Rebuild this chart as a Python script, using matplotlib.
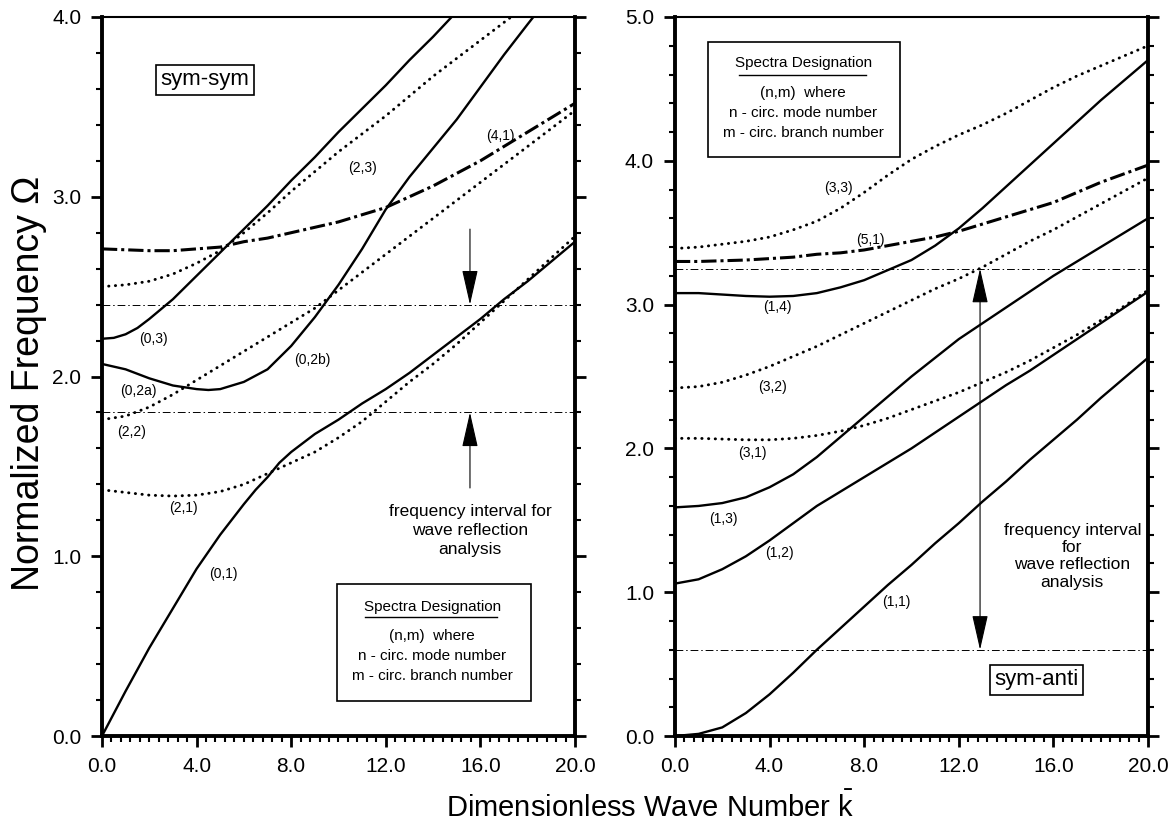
import matplotlib
matplotlib.use('Agg')
import matplotlib.pyplot as plt
from matplotlib.patches import Rectangle
from matplotlib.ticker import MultipleLocator, FormatStrFormatter

plt.rcParams['font.family'] = ['Liberation Sans', 'DejaVu Sans']
plt.rcParams['mathtext.fontset'] = 'custom'
plt.rcParams['mathtext.rm'] = 'Liberation Sans'
plt.rcParams['mathtext.it'] = 'Liberation Sans'

# ---- sym-sym panel (left) ----
k = [0, 1, 2, 3, 4, 5, 6, 7, 8, 9, 10, 11, 12, 13, 14, 15, 16, 17, 18, 19, 20]
k_01 = [0, 1, 2, 3, 4, 5, 6, 6.5, 7, 7.5, 8, 8.5, 9, 10, 11, 12, 13, 14, 15, 16,
        17, 18, 19, 20]
ss_01 = [0, 0.25, 0.49, 0.71, 0.93, 1.12, 1.29, 1.37, 1.44, 1.52, 1.58, 1.63,
         1.68, 1.76, 1.85, 1.93, 2.02, 2.12, 2.22, 2.32, 2.43, 2.53, 2.64, 2.75]
ss_21 = [1.37, 1.355, 1.34, 1.335, 1.34, 1.36, 1.40, 1.46, 1.52, 1.58, 1.66, 1.75,
         1.86, 1.97, 2.07, 2.18, 2.30, 2.42, 2.54, 2.66, 2.78]
k_02 = [0, 1, 2, 3, 4, 4.5, 5, 6, 7, 8, 9, 10, 11, 12, 13, 14, 15, 16, 17, 18, 18.6]
ss_02 = [2.07, 2.04, 1.99, 1.95, 1.93, 1.925, 1.93, 1.97, 2.04, 2.17, 2.33, 2.51,
         2.71, 2.93, 3.11, 3.27, 3.43, 3.61, 3.79, 3.96, 4.06]
k_03 = [0, 0.5, 1, 1.5, 2, 3, 4, 5, 6, 7, 8, 9, 10, 11, 12, 13, 14, 15]
ss_03 = [2.21, 2.215, 2.235, 2.27, 2.32, 2.43, 2.56, 2.69, 2.82, 2.95, 3.09, 3.22,
         3.36, 3.49, 3.62, 3.76, 3.89, 4.03]
k_23 = [0, 1, 2, 3, 4, 5, 6, 7, 8, 9, 10, 11, 12, 13, 14, 15, 16, 17, 18]
ss_23 = [2.50, 2.51, 2.53, 2.57, 2.63, 2.70, 2.80, 2.91, 3.03, 3.14, 3.25, 3.35,
         3.45, 3.56, 3.67, 3.77, 3.87, 3.97, 4.07]
ss_22 = [1.76, 1.78, 1.83, 1.90, 1.98, 2.06, 2.14, 2.22, 2.30, 2.38, 2.48, 2.58,
         2.68, 2.78, 2.88, 2.98, 3.08, 3.18, 3.28, 3.38, 3.48]
ss_41 = [2.71, 2.705, 2.70, 2.70, 2.71, 2.72, 2.75, 2.77, 2.80, 2.83, 2.86, 2.90,
         2.94, 3.00, 3.06, 3.13, 3.20, 3.28, 3.36, 3.44, 3.52]
ss_band = [2.4, 1.8]

# ---- sym-anti panel (right) ----
sa_33 = [3.39, 3.40, 3.42, 3.44, 3.47, 3.52, 3.58, 3.67, 3.78, 3.90, 4.01, 4.10,
         4.18, 4.25, 4.33, 4.42, 4.51, 4.59, 4.66, 4.73, 4.80]
sa_51 = [3.30, 3.30, 3.305, 3.31, 3.32, 3.33, 3.35, 3.36, 3.38, 3.41, 3.44, 3.47,
         3.51, 3.56, 3.61, 3.66, 3.71, 3.78, 3.85, 3.91, 3.97]
sa_14 = [3.08, 3.08, 3.07, 3.06, 3.055, 3.06, 3.08, 3.12, 3.17, 3.24, 3.31, 3.41,
         3.53, 3.67, 3.82, 3.97, 4.12, 4.27, 4.42, 4.56, 4.70]
sa_32 = [2.42, 2.43, 2.46, 2.51, 2.57, 2.64, 2.71, 2.79, 2.87, 2.95, 3.03, 3.11,
         3.18, 3.26, 3.35, 3.44, 3.52, 3.61, 3.70, 3.79, 3.88]
sa_31 = [2.07, 2.07, 2.065, 2.06, 2.06, 2.07, 2.09, 2.12, 2.16, 2.21, 2.27, 2.33,
         2.39, 2.46, 2.53, 2.61, 2.70, 2.79, 2.89, 2.99, 3.10]
sa_13 = [1.59, 1.60, 1.62, 1.66, 1.73, 1.82, 1.94, 2.08, 2.22, 2.36, 2.50, 2.63,
         2.76, 2.87, 2.98, 3.09, 3.20, 3.30, 3.40, 3.50, 3.60]
sa_12 = [1.06, 1.09, 1.16, 1.25, 1.36, 1.48, 1.60, 1.70, 1.80, 1.90, 2.00, 2.11,
         2.22, 2.33, 2.44, 2.54, 2.65, 2.76, 2.87, 2.98, 3.09]
sa_11 = [0, 0.015, 0.06, 0.16, 0.29, 0.44, 0.60, 0.75, 0.90, 1.05, 1.19, 1.34,
         1.48, 1.63, 1.77, 1.92, 2.06, 2.20, 2.35, 2.49, 2.63]
sa_band = [3.25, 0.6]

solid = dict(color='black', lw=1.7, ls='-')
dotted = dict(color='black', lw=2.1, ls=(0, (0.1, 2.2)), dash_capstyle='round')
dashdot = dict(color='black', lw=2.2, ls=(0, (5, 1.3, 1, 1.3)))
thin = dict(color='black', lw=0.7, ls=(0, (8, 3, 1.5, 3)))

fig = plt.figure(figsize=(11.72, 8.33), dpi=100)
ax1 = fig.add_axes([0.0870, 0.1164, 0.4036, 0.8632])
ax2 = fig.add_axes([0.5759, 0.1164, 0.4036, 0.8632])


def style(ax, ymax):
    ax.set_xlim(0, 20)
    ax.set_ylim(0, ymax)
    ax.xaxis.set_major_locator(MultipleLocator(4))
    ax.xaxis.set_minor_locator(MultipleLocator(0.4))
    ax.yaxis.set_major_locator(MultipleLocator(1))
    ax.yaxis.set_minor_locator(MultipleLocator(0.2))
    ax.xaxis.set_major_formatter(FormatStrFormatter('%.1f'))
    ax.yaxis.set_major_formatter(FormatStrFormatter('%.1f'))
    ax.tick_params(which='both', direction='out', left=True, right=True,
                   top=False, bottom=True, labelsize=15)
    ax.tick_params(which='major', length=8, width=2, pad=7)
    ax.tick_params(which='minor', length=4, width=1.5)
    for s in ['left', 'right', 'bottom']:
        ax.spines[s].set_linewidth(2.8)
    ax.spines['top'].set_linewidth(1.5)


def spectra_box(ax, x0, y0, w, h, cx, ys, uline):
    ax.add_patch(Rectangle((x0, y0), w, h, transform=ax.transAxes,
                           fill=False, lw=1.2, ec='black'))
    lines = ['Spectra Designation', '(n,m)  where',
             'n - circ. mode number', 'm - circ. branch number']
    for t, y in zip(lines, ys):
        ax.text(cx, y, t, transform=ax.transAxes, ha='center', va='center',
                fontsize=11)
    ax.plot(uline[0], uline[1], transform=ax.transAxes, color='black', lw=1)


# left panel
style(ax1, 4)
ax1.plot(k_01, ss_01, **solid)
ax1.plot(k, ss_21, **dotted)
ax1.plot(k_02, ss_02, **solid)
ax1.plot(k_03, ss_03, **solid)
ax1.plot(k_23, ss_23, **dotted)
ax1.plot(k, ss_22, **dotted)
ax1.plot(k, ss_41, **dashdot)
for b in ss_band:
    ax1.axhline(b, **thin)

labels1 = [('(0,3)', 2.16, 2.21), ('(0,2b)', 8.88, 2.09), ('(2,3)', 11.0, 3.16),
           ('(4,1)', 16.83, 3.34), ('(0,2a)', 1.52, 1.92), ('(2,2)', 1.27, 1.69),
           ('(2,1)', 3.43, 1.27), ('(0,1)', 5.12, 0.90)]
for t, x, y in labels1:
    ax1.text(x, y, t, ha='center', va='center', fontsize=10)

arr = 'head_length=2.2,head_width=0.5'
ax1.annotate('', xy=(15.56, 2.4), xytext=(15.56, 2.82),
             arrowprops=dict(arrowstyle='-|>,' + arr, color='black', lw=0.8,
                             shrinkA=0, shrinkB=0))
ax1.annotate('', xy=(15.56, 1.8), xytext=(15.56, 1.38),
             arrowprops=dict(arrowstyle='-|>,' + arr, color='black', lw=0.8,
                             shrinkA=0, shrinkB=0))
ax1.text(15.56, 1.145, 'frequency interval for\nwave reflection\nanalysis',
         ha='center', va='center', fontsize=12.5, linespacing=1.35)
ax1.text(4.36, 3.65, 'sym-sym', ha='center', va='center', fontsize=16,
         bbox=dict(boxstyle='square,pad=0.2', fc='white', ec='black', lw=1.2))
spectra_box(ax1, 0.497, 0.049, 0.41, 0.162, 0.698,
            [0.179, 0.139, 0.111, 0.083], ([0.556, 0.835], [0.1655, 0.1655]))

# right panel
style(ax2, 5)
ax2.plot(k, sa_33, **dotted)
ax2.plot(k, sa_51, **dashdot)
ax2.plot(k, sa_14, **solid)
ax2.plot(k, sa_32, **dotted)
ax2.plot(k, sa_31, **dotted)
ax2.plot(k, sa_13, **solid)
ax2.plot(k, sa_12, **solid)
ax2.plot(k, sa_11, **solid)
for b in sa_band:
    ax2.axhline(b, **thin)

labels2 = [('(3,3)', 6.93, 3.81), ('(5,1)', 8.25, 3.45), ('(1,4)', 4.31, 2.98),
           ('(3,2)', 4.14, 2.43), ('(3,1)', 3.28, 1.97), ('(1,3)', 2.03, 1.51),
           ('(1,2)', 4.4, 1.27), ('(1,1)', 9.34, 0.93)]
for t, x, y in labels2:
    ax2.text(x, y, t, ha='center', va='center', fontsize=10)

ax2.annotate('', xy=(12.9, 3.25), xytext=(12.9, 0.6),
             arrowprops=dict(arrowstyle='<|-|>,' + arr, color='black', lw=0.8,
                             shrinkA=0, shrinkB=0))
ax2.text(16.8, 1.25, 'frequency interval\nfor\nwave reflection\nanalysis',
         ha='center', va='center', fontsize=12.5, linespacing=1.2)
ax2.text(15.3, 0.39, 'sym-anti', ha='center', va='center', fontsize=16,
         bbox=dict(boxstyle='square,pad=0.2', fc='white', ec='black', lw=1.2))
spectra_box(ax2, 0.070, 0.805, 0.406, 0.160, 0.271,
            [0.936, 0.894, 0.866, 0.839], ([0.135, 0.404], [0.919, 0.919]))

fig.text(0.555, 0.031, r'Dimensionless Wave Number $\bar{\mathrm{k}}$',
         ha='center', va='center', fontsize=21)
fig.text(0.025, 0.54, 'Normalized Frequency Ω', rotation=90, ha='center',
         va='center', fontsize=27)

fig.savefig('out.png', dpi=100)
